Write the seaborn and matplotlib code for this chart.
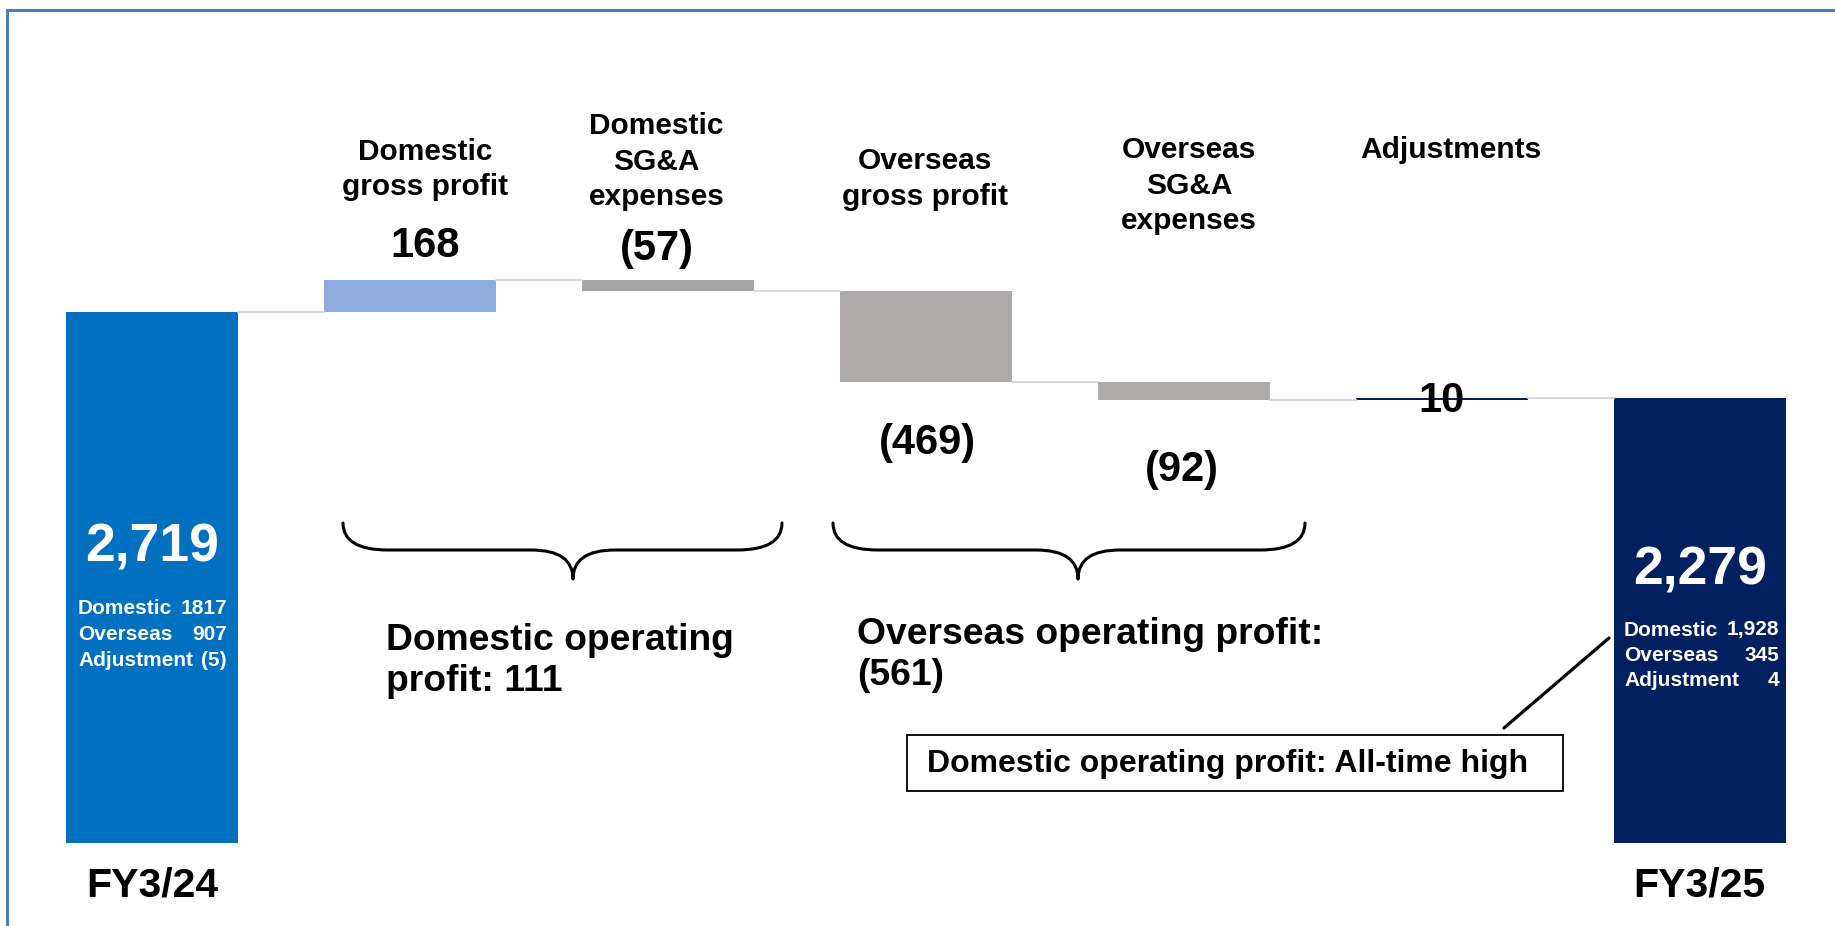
import numpy as np
import pandas as pd
import matplotlib
matplotlib.use("Agg")
import matplotlib.pyplot as plt
from matplotlib.path import Path
from matplotlib.patches import PathPatch, Rectangle
from matplotlib.lines import Line2D
import seaborn as sns

# ---------------- data ----------------
categories = ["FY3/24", "Domestic\ngross profit", "Domestic\nSG&A\nexpenses",
              "Overseas\ngross profit", "Overseas\nSG&A\nexpenses", "Adjustments", "FY3/25"]
values = [2719, 168, -57, -469, -92, 10, 2279]
is_total = [True, False, False, False, False, False, True]
value_labels = ["2,719", "168", "(57)", "(469)", "(92)", "10", "2,279"]
bar_colors = ["#0070C0", "#8FAADC", "#A6A6A6", "#AEAAAA", "#AEAAAA", "#002060", "#022060"]

breakdown_names = ["Domestic", "Overseas", "Adjustment"]
breakdown_fy24 = ["1817", "907", "(5)"]
breakdown_fy25 = ["1,928", "345", "4"]

segment_labels = ["Domestic operating\nprofit: 111", "Overseas operating profit:\n(561)"]
callout_text = "Domestic operating profit: All-time high"

# ---------------- derived waterfall geometry ----------------
bottoms, heights = [], []
running = 0
for v, tot in zip(values, is_total):
    if tot:
        bottoms.append(0)
        heights.append(v)
        running = v
    else:
        bottoms.append(running)
        heights.append(v)
        running += v
levels = [b + h for b, h in zip(bottoms, heights)]

W, H = 1835, 926
sns.set_theme(style="white")
plt.rcParams["font.family"] = ["Liberation Sans", "DejaVu Sans"]
plt.rcParams["font.weight"] = "bold"

fig = plt.figure(figsize=(W / 100, H / 100), dpi=100)
fig.patch.set_facecolor("white")
ax = fig.add_axes([0, 0, 1, 1])

BAR_W = 0.667
df = pd.DataFrame({"step": categories, "height": heights})
sns.barplot(data=df, x="step", y="height", order=categories, bottom=bottoms,
            color="#000000", saturation=1, facecolor=bar_colors, width=BAR_W,
            errorbar=None, linewidth=0, ax=ax)

ax.set_xlim(-0.5898, 6.525)
ax.set_ylim(-427.8, 4321.7)
ax.axis("off")

inv = ax.transData.inverted()


def px(xp, yp):
    """pixel (from top-left) -> data coords"""
    return inv.transform((xp, H - yp))


# connectors
for i in range(len(values) - 1):
    ax.plot([i + BAR_W / 2, i + 1 - BAR_W / 2], [levels[i], levels[i]],
            color="#D9D9D9", lw=1.5, zorder=1)

# category labels
cat_pos = {1: (0.058, 3451), 2: (-0.044, 3493), 3: (-0.005, 3404), 4: (0.02, 3370), 5: (0.036, 3553)}
for i, (dx, y) in cat_pos.items():
    ax.text(i + dx, y, categories[i], ha="center", va="center", fontsize=21.5,
            fontweight="bold", color="black", linespacing=1.33)

# value labels for steps
val_pos = {1: (0.058, 3061), 2: (-0.044, 3045), 3: (0.008, 2050), 4: (-0.007, 1911), 5: (0.0, 2265)}
for i, (dx, y) in val_pos.items():
    ax.text(i + dx, y, value_labels[i], ha="center", va="center", fontsize=30,
            fontweight="bold", color="black", zorder=5)

# totals
ax.text(0, 1515, value_labels[0], ha="center", va="center", fontsize=38.5,
        fontweight="bold", color="white")
ax.text(6, 1398, value_labels[6], ha="center", va="center", fontsize=38.5,
        fontweight="bold", color="white")

# breakdowns
for k, name in enumerate(breakdown_names):
    yl = 609 + k * 25.5
    x_l, y_l = px(78, yl)
    x_r, _ = px(227, yl)
    ax.text(x_l, y_l, name, ha="left", va="center", fontsize=15, fontweight="bold", color="white")
    ax.text(x_r, y_l, breakdown_fy24[k], ha="right", va="center", fontsize=15, fontweight="bold", color="white")
    yl2 = 630 + k * 25.5
    x_l, y_l = px(1624, yl2)
    x_r, _ = px(1779, yl2)
    ax.text(x_l, y_l, name, ha="left", va="center", fontsize=15, fontweight="bold", color="white")
    ax.text(x_r, y_l, breakdown_fy25[k], ha="right", va="center", fontsize=15, fontweight="bold", color="white")

# bottom period labels
for i in (0, 6):
    ax.text(i, -222, categories[i], ha="center", va="center", fontsize=29.5,
            fontweight="bold", color="black")


# braces
def brace(x0p, x1p, xmp, ytop, ymid, ybot, r=45, r2=42):
    pts = [(x0p, ytop), (x0p, ymid), (x0p + r, ymid), (xmp - r2, ymid),
           (xmp, ymid), (xmp, ybot), (xmp, ymid), (xmp + r2, ymid),
           (x1p - r, ymid), (x1p, ymid), (x1p, ytop)]
    codes = [Path.MOVETO, Path.CURVE3, Path.CURVE3, Path.LINETO,
             Path.CURVE3, Path.CURVE3, Path.CURVE3, Path.CURVE3,
             Path.LINETO, Path.CURVE3, Path.CURVE3]
    verts = [tuple(px(a, b)) for a, b in pts]
    ax.add_patch(PathPatch(Path(verts, codes), facecolor="none", edgecolor="black",
                           lw=2.2, capstyle="round", joinstyle="round"))


brace(343, 782, 573, 523, 550, 579)
brace(833, 1305, 1078, 523, 550, 579)

# segment labels
x, y = px(386, 661)
ax.text(x, y, segment_labels[0], ha="left", va="center", fontsize=26.8,
        fontweight="bold", color="black", linespacing=1.2)
x, y = px(857, 655)
ax.text(x, y, segment_labels[1], ha="left", va="center", fontsize=26.8,
        fontweight="bold", color="black", linespacing=1.2)

# callout box
(bx0, by1) = px(907, 735)
(bx1, by0) = px(1563, 791)
ax.add_patch(Rectangle((bx0, by0), bx1 - bx0, by1 - by0, facecolor="white",
                       edgecolor="black", lw=1.3, zorder=4))
x, y = px(927, 764)
ax.text(x, y, callout_text, ha="left", va="center", fontsize=23,
        fontweight="bold", color="black", zorder=5)
p0 = px(1504, 728)
p1 = px(1609, 638)
ax.plot([p0[0], p1[0]], [p0[1], p1[1]], color="black", lw=2.3, zorder=4)

# frame (top and left edges)
fc = "#4A7EBB"
fig.add_artist(Line2D([7 / W, 7 / W], [0, 1 - 10 / H], color=fc, lw=2.2))
fig.add_artist(Line2D([7 / W, 1], [1 - 10 / H, 1 - 10 / H], color=fc, lw=2.2))

fig.savefig("out.png", dpi=100, facecolor="white")
